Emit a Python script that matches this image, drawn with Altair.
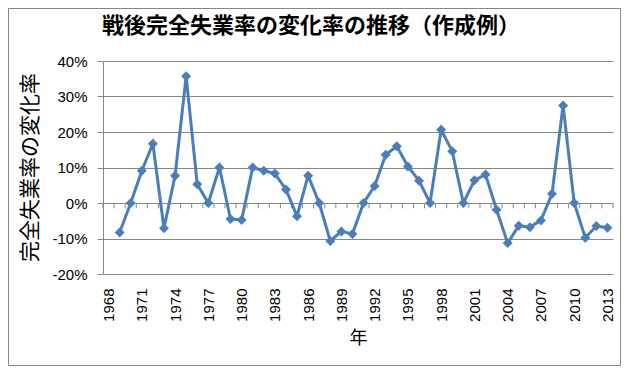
import altair as alt
import pandas as pd

years = list(range(1968, 2014))
rates = [None, -8.3, 0.0, 9.1, 16.7, -7.1, 7.7, 35.7, 5.3, 0.0, 10.0, -4.5, -4.8,
         10.0, 9.1, 8.3, 3.8, -3.7, 7.7, 0.0, -10.7, -8.0, -8.7, 0.0, 4.8, 13.6,
         16.0, 10.3, 6.3, 0.0, 20.6, 14.6, 0.0, 6.4, 8.0, -1.9, -11.3, -6.4, -6.8,
         -4.9, 2.6, 27.5, 0.0, -9.8, -6.5, -7.0]
label_years = list(range(1968, 2014, 3))
y_ticks = [-20, -10, 0, 10, 20, 30, 40]
title_text = "戦後完全失業率の変化率の推移（作成例）"
y_title = "完全失業率の変化率"
x_title = "年"

df = pd.DataFrame({"year": years, "rate": rates}).dropna()
bounds = pd.DataFrame({"year": [y - 0.5 for y in years] + [years[-1] + 0.5]})

GRAY = "#868686"
BLUE = "#4a7ebb"
W, H = 510, 213

xscale = alt.Scale(domain=[years[0] - 0.5, years[-1] + 0.5], nice=False, zero=False)
yscale = alt.Scale(domain=[-20, 40], nice=False)

xaxis = alt.Axis(values=label_years, format="d", labelAngle=-90, ticks=False, domain=False,
                 grid=False, labelFont="Liberation Sans", labelFontSize=15, labelColor="black",
                 labelPadding=14, title=x_title, titleFont="Noto Sans CJK JP",
                 titleFontSize=18, titleFontWeight="normal", titleColor="black", titlePadding=8)
yaxis = alt.Axis(values=y_ticks, labelExpr="datum.value + '%'", grid=True, gridColor=GRAY,
                 domainColor=GRAY, tickColor=GRAY, tickSize=6, labelFont="Liberation Sans",
                 labelFontSize=15, labelColor="black", labelPadding=10,
                 title=y_title, titleAngle=-90, titleX=-73, titleY=106, titleBaseline="middle",
                 titleAlign="center", titleFont="Noto Sans CJK JP", titleFontSize=21,
                 titleFontWeight="normal", titleColor="black")

X = alt.X("year:Q", scale=xscale, axis=xaxis)

ticks = alt.Chart(bounds).mark_rule(color=GRAY, strokeWidth=1).encode(
    x=X, y=alt.datum(0, scale=yscale, axis=yaxis), y2=alt.datum(-1.5)
)

line = alt.Chart(df).mark_line(
    color=BLUE, strokeWidth=3,
    point=alt.OverlayMarkDef(shape="diamond", size=100, filled=True, color=BLUE)
).encode(
    x=X, y=alt.Y("rate:Q", scale=yscale, axis=yaxis)
)

one = pd.DataFrame({"t": [title_text]})

border = alt.Chart(one).mark_rect(
    fill="transparent", stroke=GRAY, strokeWidth=1
).encode(
    x=alt.value(-94.5), x2=alt.value(W + 7.5), y=alt.value(-52.5), y2=alt.value(H + 91.5)
)

title = alt.Chart(one).mark_text(
    font="Noto Sans CJK JP", fontSize=22, fontWeight="bold", color="black",
    align="center", baseline="middle"
).encode(text="t:N", x=alt.value(208), y=alt.value(-35))

chart = alt.layer(ticks, line, border, title).properties(
    width=W, height=H,
    autosize=alt.AutoSizeParams(type="none"),
    padding={"left": 95, "top": 53, "right": 8, "bottom": 92},
).configure_view(strokeWidth=0)

chart.save("out.html", embed_options={"renderer": "svg", "actions": False})
